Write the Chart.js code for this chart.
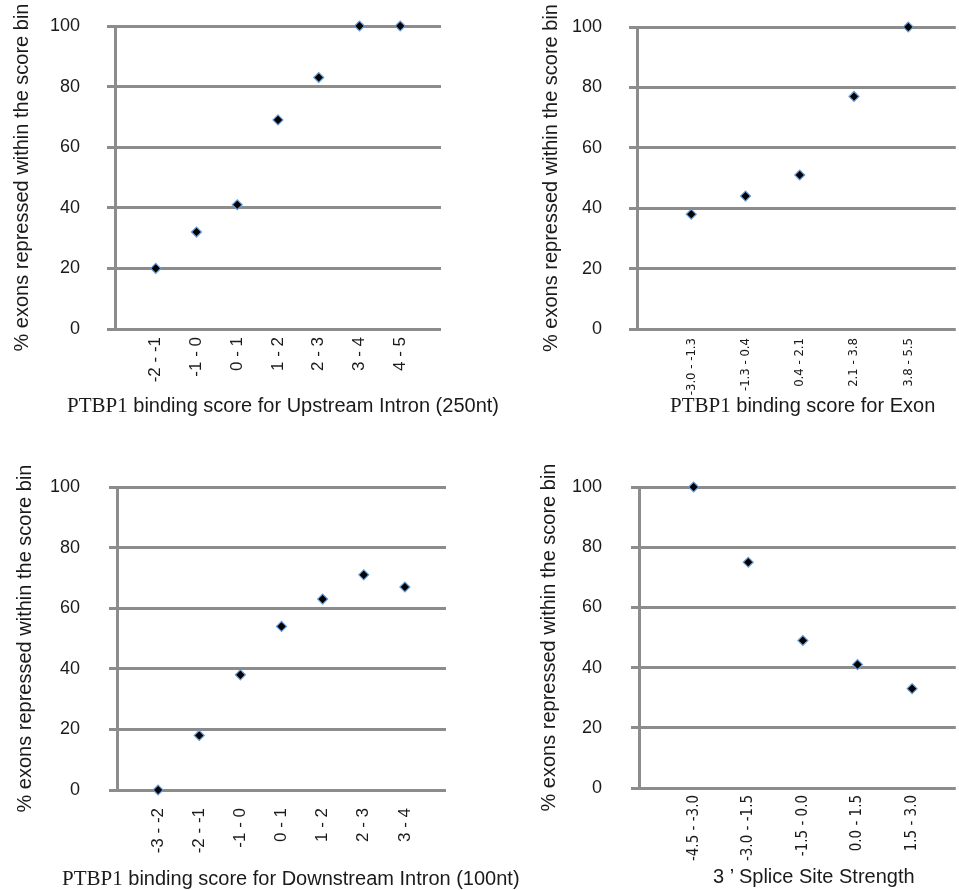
<!DOCTYPE html>
<html>
<head>
<meta charset="utf-8">
<script src="https://cdn.jsdelivr.net/npm/chart.js@4.4.1/dist/chart.umd.min.js"></script>
<style>
  body { margin: 0; background: #fff; width: 959px; height: 890px; position: relative; overflow: hidden; }
  canvas { position: absolute; }
  .xt { position: absolute; white-space: nowrap; font-family: 'Liberation Sans', Arial, sans-serif; font-size: 20px; line-height: 20px; color: #1a1a1a; }
  .xt .s { font-family: 'Liberation Serif', 'Times New Roman', serif; font-size: 21px; }
</style>
</head>
<body>
<canvas id="c1" width="480" height="450" style="left:0;top:0"></canvas>
<canvas id="c2" width="482" height="450" style="left:480px;top:0"></canvas>
<canvas id="c3" width="480" height="440" style="left:0;top:450px"></canvas>
<canvas id="c4" width="482" height="440" style="left:480px;top:450px"></canvas>

<div class="xt" style="left:67px;top:395px"><span class="s">PTBP1</span> binding score for Upstream Intron (250nt)</div>
<div class="xt" style="left:670px;top:395px"><span class="s">PTBP1</span> binding score for Exon</div>
<div class="xt" style="left:62px;top:868px"><span class="s">PTBP1</span> binding score for Downstream Intron (100nt)</div>
<div class="xt" style="left:713px;top:866px">3 ’ Splice Site Strength</div>

<script>
// values
const upstreamBins = ['-2 - -1', '-1 - 0', '0 - 1', '1 - 2', '2 - 3', '3 - 4', '4 - 5'];
const upstreamPct = [20, 32, 41, 69, 83, 100, 100];

const exonBins = ['-3.0 - -1.3', '-1.3 - 0.4', '0.4 - 2.1', '2.1 - 3.8', '3.8 - 5.5'];
const exonPct = [38, 44, 51, 77, 100];

const downstreamBins = ['-3 - -2', '-2 - -1', '-1 - 0', '0 - 1', '1 - 2', '2 - 3', '3 - 4'];
const downstreamPct = [0, 18, 38, 54, 63, 71, 67];

const spliceBins = ['-4.5 - -3.0', '-3.0 - -1.5', '-1.5 - 0.0', '0.0 - 1.5', '1.5 - 3.0'];
const splicePct = [100, 75, 49, 41, 33];

const yTicks = [0, 20, 40, 60, 80, 100];
const yTitle = '% exons repressed within the score bin';

const gray = '#8c8c8c';
const ink = '#1a1a1a';
const sans = "'Liberation Sans', Arial, sans-serif";
const narrow = "'Liberation Sans Narrow', 'DejaVu Sans Condensed', 'Liberation Sans', sans-serif";

function panel(id, bins, pct, o) {
    const pts = bins.map((b, i) => ({ x: i + 1, y: pct[i] }));
    return new Chart(document.getElementById(id), {
        type: 'scatter',
        data: {
            datasets: [{
                data: pts,
                pointStyle: 'rectRot',
                pointRadius: 5,
                pointBackgroundColor: '#000',
                pointBorderColor: '#6a9fd8',
                pointBorderWidth: 1.2,
                clip: false
            }]
        },
        options: {
            responsive: false,
            animation: false,
            devicePixelRatio: 1,
            layout: { padding: { top: o.top, right: o.right, left: 0, bottom: 0 } },
            plugins: { legend: { display: false }, tooltip: { enabled: false } },
            scales: {
                x: {
                    type: 'linear', min: 0, max: o.xMax,
                    afterBuildTicks: s => { s.ticks = bins.map((b, i) => ({ value: i + 1 })); },
                    afterFit: s => { s.height = o.xHeight; },
                    grid: { display: false, drawTicks: false },
                    border: { display: false },
                    ticks: {
                        autoSkip: false, minRotation: 90, maxRotation: 90,
                        padding: o.xPad, color: ink, font: o.xFont,
                        callback: v => bins[v - 1] ?? ''
                    }
                },
                y: {
                    min: 0, max: 100,
                    afterBuildTicks: s => { s.ticks = yTicks.map(v => ({ value: v })); },
                    // fixed width; drop the label padding so the top margin stays as set
                    afterFit: s => { s.width = o.yWidth; s.paddingTop = 10; s.paddingBottom = 10; },
                    grid: { color: gray, lineWidth: 3, tickLength: 8 },
                    border: { color: gray, width: 3 },
                    ticks: { padding: o.yPad, color: ink, font: { family: sans, size: 18 } },
                    title: {
                        display: true, text: yTitle, color: ink,
                        font: { family: sans, size: 20 },
                        padding: { top: o.yTitlePad, bottom: 0 }
                    }
                }
            }
        }
    });
}

panel('c1', upstreamBins, upstreamPct, {
    top: 26, right: 39, yWidth: 115, xHeight: 121, xMax: 8,
    yTitlePad: 10, yPad: 27, xPad: 8, xFont: { family: sans, size: 17 }
});
panel('c2', exonBins, exonPct, {
    top: 27, right: 0, yWidth: 157, xHeight: 121, xMax: 5.876,
    yTitlePad: 59, yPad: 27, xPad: 9, xFont: { family: narrow, size: 13 }
});
panel('c3', downstreamBins, downstreamPct, {
    top: 37, right: 34, yWidth: 117, xHeight: 100, xMax: 8,
    yTitlePad: 13, yPad: 29, xPad: 18, xFont: { family: sans, size: 17 }
});
panel('c4', spliceBins, splicePct, {
    top: 37, right: 0, yWidth: 159, xHeight: 102, xMax: 5.8,
    yTitlePad: 57, yPad: 29, xPad: 7, xFont: { family: narrow, size: 15 }
});
</script>
</body>
</html>
